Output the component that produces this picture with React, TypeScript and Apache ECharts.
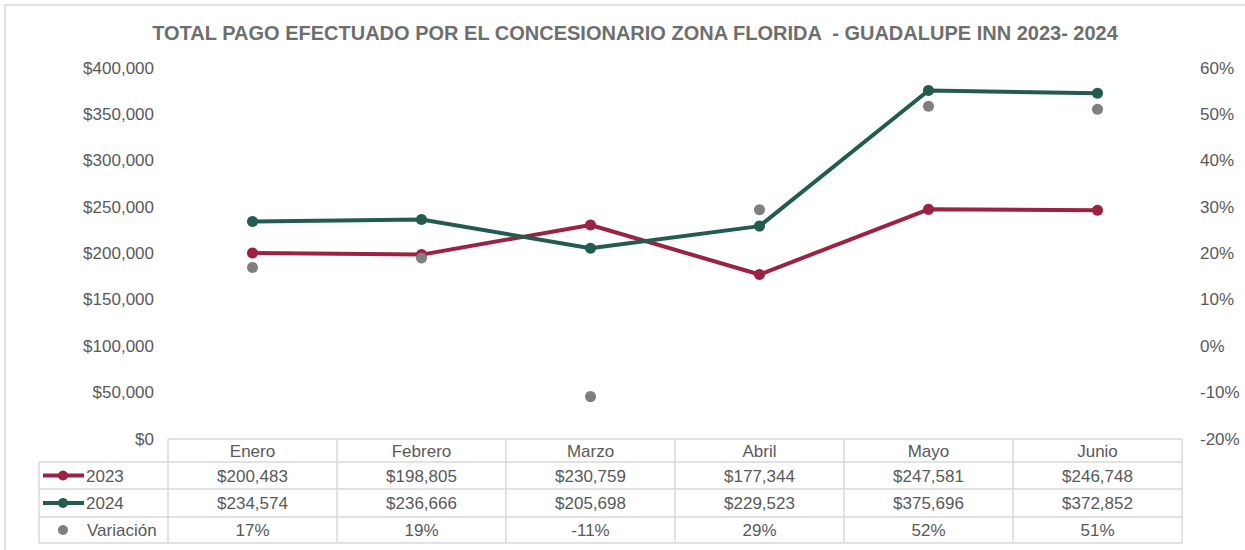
import React, { useEffect, useRef } from "react";
import * as echarts from "echarts";

const months = ["Enero", "Febrero", "Marzo", "Abril", "Mayo", "Junio"];
const values2023 = [200483, 198805, 230759, 177344, 247581, 246748];
const values2024 = [234574, 236666, 205698, 229523, 375696, 372852];
const variacion = [0.17, 0.1904, -0.1086, 0.2942, 0.5175, 0.511];
const variacionLabels = ["17%", "19%", "-11%", "29%", "52%", "51%"];

const C2023 = "#9B2242";
const C2024 = "#235B4E";
const CVAR = "#7F7F7F";
const TXT = "#595959";
const LINE = "#D9D9D9";
const FONT = "Liberation Sans, Arial, sans-serif";

const W = 1245;
const H = 550;
const GRID_L = 168;
const GRID_R = 1182;
const GRID_T = 68;
const GRID_B = 439;

const fmtMoney = (v: number) => "$" + v.toLocaleString("en-US");

export default function App() {
  const ref = useRef<HTMLDivElement>(null);

  useEffect(() => {
    document.body.style.margin = "0";
    if (!ref.current) return;
    const chart = echarts.init(ref.current, null, { renderer: "svg" });

    const colW = (GRID_R - GRID_L) / months.length;
    const rows = [439, 462, 489, 517, 543];
    const legendL = 39;
    const graphics: any[] = [];

    graphics.push({
      type: "rect",
      shape: { x: 5, y: 5, width: W, height: H },
      style: { fill: "none", stroke: LINE, lineWidth: 1.5 },
      silent: true,
    });

    graphics.push({ type: "line", shape: { x1: GRID_L, y1: rows[0], x2: GRID_R, y2: rows[0] }, style: { stroke: LINE, lineWidth: 1.5 } });
    for (let i = 1; i < rows.length; i++) {
      graphics.push({ type: "line", shape: { x1: legendL, y1: rows[i], x2: GRID_R, y2: rows[i] }, style: { stroke: LINE, lineWidth: 1.5 } });
    }
    for (let i = 0; i <= months.length; i++) {
      const x = GRID_L + i * colW;
      graphics.push({ type: "line", shape: { x1: x, y1: rows[0], x2: x, y2: rows[4] }, style: { stroke: LINE, lineWidth: 1.5 } });
    }
    graphics.push({ type: "line", shape: { x1: legendL, y1: rows[1], x2: legendL, y2: rows[4] }, style: { stroke: LINE, lineWidth: 1.5 } });

    const rowTexts = [months, values2023.map(fmtMoney), values2024.map(fmtMoney), variacionLabels];
    rowTexts.forEach((arr, r) => {
      const cy = (rows[r] + rows[r + 1]) / 2 + 0.5;
      arr.forEach((t, i) => {
        graphics.push({
          type: "text",
          style: {
            text: t,
            x: GRID_L + (i + 0.5) * colW,
            y: cy,
            align: "center",
            verticalAlign: "middle",
            font: `17px ${FONT}`,
            fill: TXT,
          },
        });
      });
    });

    const legendItems = [
      { name: "2023", color: C2023, line: true },
      { name: "2024", color: C2024, line: true },
      { name: "Variación", color: CVAR, line: false },
    ];
    legendItems.forEach((it, k) => {
      const cy = (rows[k + 1] + rows[k + 2]) / 2;
      if (it.line) {
        graphics.push({ type: "line", shape: { x1: 43, y1: cy, x2: 84, y2: cy }, style: { stroke: it.color, lineWidth: 4 } });
      }
      graphics.push({ type: "circle", shape: { cx: 63, cy, r: 5 }, style: { fill: it.color } });
      graphics.push({
        type: "text",
        style: {
          text: it.name,
          x: it.line ? 86 : 87,
          y: cy + 0.5,
          align: "left",
          verticalAlign: "middle",
          font: `17px ${FONT}`,
          fill: TXT,
        },
      });
    });

    chart.setOption({
      animation: false,
      backgroundColor: "#ffffff",
      title: {
        text: "TOTAL PAGO EFECTUADO POR EL CONCESIONARIO ZONA FLORIDA  - GUADALUPE INN 2023- 2024",
        left: 630,
        textAlign: "center",
        top: 18,
        textStyle: { color: "#6E6E6E", fontSize: 20, fontWeight: "bold", fontFamily: FONT },
      },
      grid: { left: GRID_L, right: W - GRID_R, top: GRID_T, height: GRID_B - GRID_T },
      xAxis: {
        type: "category",
        data: months,
        boundaryGap: true,
        axisLine: { show: false },
        axisTick: { show: false },
        axisLabel: { show: false },
        splitLine: { show: false },
      },
      yAxis: [
        {
          type: "value",
          min: 0,
          max: 400000,
          interval: 50000,
          axisLine: { show: false },
          axisTick: { show: false },
          splitLine: { show: false },
          axisLabel: {
            margin: 14,
            color: TXT,
            fontSize: 17,
            fontFamily: FONT,
            formatter: (v: number) => fmtMoney(v),
          },
        },
        {
          type: "value",
          min: -0.2,
          max: 0.6,
          interval: 0.1,
          position: "right",
          axisLine: { show: false },
          axisTick: { show: false },
          splitLine: { show: false },
          axisLabel: {
            margin: 18,
            color: TXT,
            fontSize: 17,
            fontFamily: FONT,
            formatter: (v: number) => Math.round(v * 100) + "%",
          },
        },
      ],
      series: [
        {
          name: "2023",
          type: "line",
          data: values2023,
          yAxisIndex: 0,
          symbol: "circle",
          symbolSize: 11,
          lineStyle: { color: C2023, width: 4 },
          itemStyle: { color: C2023 },
          z: 3,
        },
        {
          name: "2024",
          type: "line",
          data: values2024,
          yAxisIndex: 0,
          symbol: "circle",
          symbolSize: 11,
          lineStyle: { color: C2024, width: 4 },
          itemStyle: { color: C2024 },
          z: 3,
        },
        {
          name: "Variación",
          type: "scatter",
          data: variacion,
          yAxisIndex: 1,
          symbol: "circle",
          symbolSize: 11,
          itemStyle: { color: CVAR, opacity: 1 },
          z: 4,
        },
      ],
      graphic: graphics,
    });

    return () => chart.dispose();
  }, []);

  return <div ref={ref} style={{ width: W, height: H }} />;
}
